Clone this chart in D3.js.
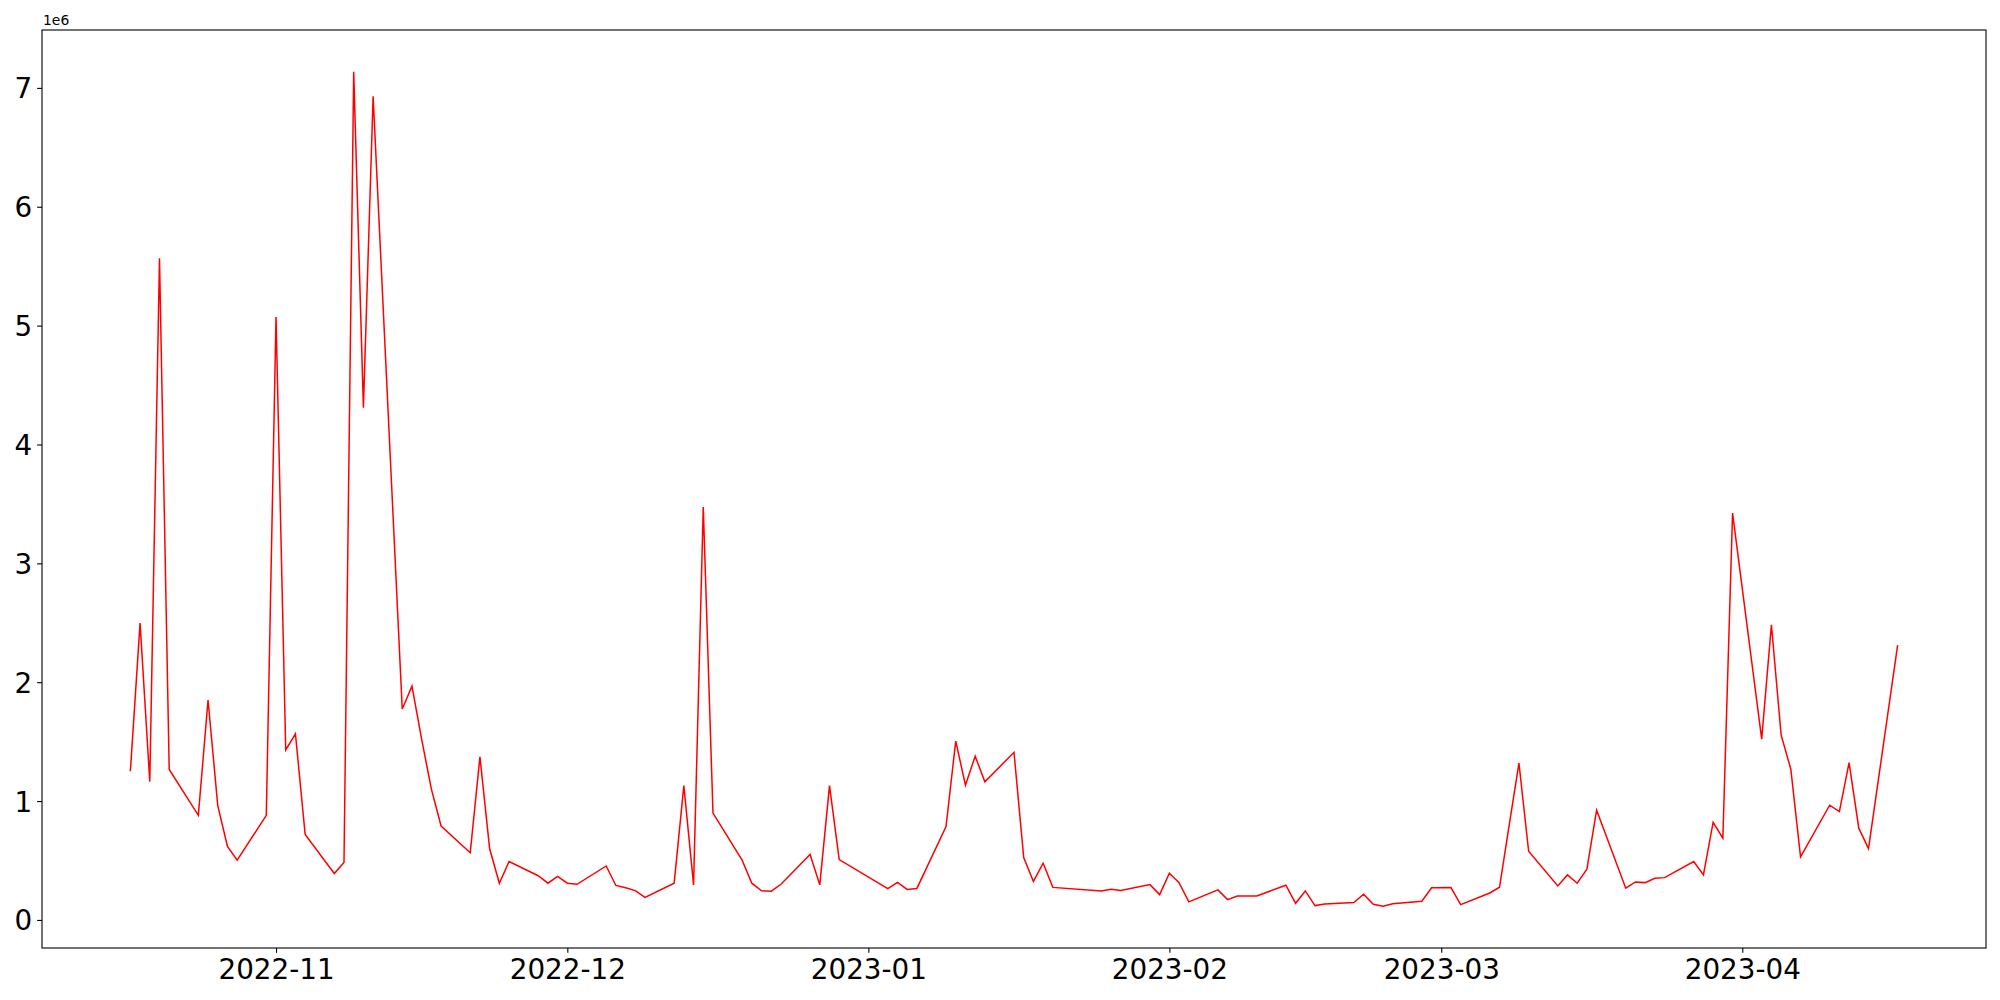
<!DOCTYPE html>
<html>
<head>
<meta charset="utf-8">
<script src="https://cdn.jsdelivr.net/npm/d3@7"></script>
<style>
  html, body { margin: 0; padding: 0; background: #ffffff; }
  svg { display: block; }
  text { font-family: "DejaVu Sans", sans-serif; fill: #000; }
</style>
</head>
<body>
<svg id="chart" width="2000" height="1000"></svg>
<script>
// ---- data ----
const dates = [
  "2022-10-17","2022-10-18","2022-10-19","2022-10-20","2022-10-21",
  "2022-10-24","2022-10-25","2022-10-26","2022-10-27","2022-10-28",
  "2022-10-31","2022-11-01","2022-11-02","2022-11-03","2022-11-04",
  "2022-11-07","2022-11-08","2022-11-09","2022-11-10","2022-11-11",
  "2022-11-14","2022-11-15","2022-11-16","2022-11-17","2022-11-18",
  "2022-11-21","2022-11-22","2022-11-23","2022-11-24","2022-11-25",
  "2022-11-28","2022-11-29","2022-11-30","2022-12-01","2022-12-02",
  "2022-12-05","2022-12-06","2022-12-07","2022-12-08","2022-12-09",
  "2022-12-12","2022-12-13","2022-12-14","2022-12-15","2022-12-16",
  "2022-12-19","2022-12-20","2022-12-21","2022-12-22","2022-12-23",
  "2022-12-26","2022-12-27","2022-12-28","2022-12-29",
  "2023-01-03","2023-01-04","2023-01-05","2023-01-06",
  "2023-01-09","2023-01-10","2023-01-11","2023-01-12","2023-01-13",
  "2023-01-16","2023-01-17","2023-01-18","2023-01-19","2023-01-20",
  "2023-01-25","2023-01-26","2023-01-27",
  "2023-01-30","2023-01-31","2023-02-01","2023-02-02","2023-02-03",
  "2023-02-06","2023-02-07","2023-02-08","2023-02-09","2023-02-10",
  "2023-02-13","2023-02-14","2023-02-15","2023-02-16","2023-02-17",
  "2023-02-20","2023-02-21","2023-02-22","2023-02-23","2023-02-24",
  "2023-02-27","2023-02-28","2023-03-02","2023-03-03",
  "2023-03-06","2023-03-07","2023-03-08","2023-03-09","2023-03-10",
  "2023-03-13","2023-03-14","2023-03-15","2023-03-16","2023-03-17",
  "2023-03-20","2023-03-21","2023-03-22","2023-03-23","2023-03-24",
  "2023-03-27","2023-03-28","2023-03-29","2023-03-30","2023-03-31",
  "2023-04-03","2023-04-04","2023-04-05","2023-04-06","2023-04-07",
  "2023-04-10","2023-04-11","2023-04-12","2023-04-13","2023-04-14",
  "2023-04-17"
];
const values = [
  1251000, 2497000, 1164000, 5566000, 1266000,
  880000, 1850000, 961000, 619000, 503000,
  880000, 5073000, 1430000, 1566000, 720000,
  391000, 483000, 7136000, 4310000, 6929000,
  1774000, 1967000, 1520000, 1100000, 790000,
  565000, 1372000, 599000, 309000, 492000,
  372000, 309000, 367000, 309000, 300000,
  454000, 290000, 270000, 247000, 189000,
  309000, 1130000, 295000, 3474000, 899000,
  503000, 309000, 245000, 242000, 300000,
  551000, 295000, 1130000, 508000,
  263000, 316000, 257000, 265000,
  785000, 1505000, 1133000, 1378000, 1162000,
  1410000, 524000, 324000, 477000, 274000,
  244000, 258000, 247000,
  297000, 213000, 393000, 314000, 152000,
  253000, 171000, 202000, 202000, 202000,
  292000, 140000, 244000, 121000, 135000,
  146000, 216000, 132000, 115000, 137000,
  158000, 270000, 272000, 129000,
  227000, 275000, 800000, 1319000, 578000,
  286000, 379000, 309000, 427000, 923000,
  267000, 320000, 314000, 351000, 356000,
  491000, 379000, 822000, 688000, 3423000,
  1521000, 2483000, 1557000, 1268000, 530000,
  965000, 912000, 1324000, 772000, 600000,
  2312000
];
const yTickValues = [0, 1, 2, 3, 4, 5, 6, 7];
const yOffsetLabel = "1e6";
const xTickDates = ["2022-11-01","2022-12-01","2023-01-01","2023-02-01","2023-03-01","2023-04-01"];

// ---- layout ----
const svg = d3.select("#chart");
const mLeft = 42, mRight = 1986, mTop = 30, mBottom = 948;
const fs = 27.8;
const tickLen = 4.86, tickPad = 4.86;

const parseDate = d3.utcParse("%Y-%m-%d");
const data = dates.map((d, i) => ({ date: parseDate(d), value: values[i] }));

// matplotlib-like 5% margins
const [xmin, xmax] = d3.extent(data, d => d.date);
const xspan = xmax - xmin;
const x = d3.scaleUtc()
  .domain([new Date(+xmin - 0.05 * xspan), new Date(+xmax + 0.05 * xspan)])
  .range([mLeft, mRight]);

const [ymin, ymax] = d3.extent(values);
const yspan = ymax - ymin;
const y = d3.scaleLinear()
  .domain([ymin - 0.05 * yspan, ymax + 0.05 * yspan])
  .range([mBottom, mTop]);

// line
const lineGen = d3.line().x(d => x(d.date)).y(d => y(d.value));
svg.append("path")
  .datum(data)
  .attr("d", lineGen)
  .attr("fill", "none")
  .attr("stroke", "#ff0000")
  .attr("stroke-width", 1.5)
  .attr("stroke-linejoin", "miter");

// x axis
const fmt = d3.utcFormat("%Y-%m");
const xAxis = d3.axisBottom(x)
  .tickValues(xTickDates.map(parseDate))
  .tickFormat(fmt)
  .tickSizeInner(tickLen)
  .tickSizeOuter(0)
  .tickPadding(tickPad);
const gx = svg.append("g").attr("transform", `translate(0,${mBottom})`).call(xAxis);
gx.select(".domain").remove();
gx.selectAll(".tick line").attr("stroke", "#000").attr("stroke-width", 1.1);
gx.selectAll(".tick text")
  .attr("font-size", fs)
  .attr("font-family", "DejaVu Sans")
  .attr("fill", "#000")
  .attr("dy", "0.76em");

// y axis
const yAxis = d3.axisLeft(y)
  .tickValues(yTickValues.map(v => v * 1e6))
  .tickFormat(v => String(Math.round(v / 1e6)))
  .tickSizeInner(tickLen)
  .tickSizeOuter(0)
  .tickPadding(tickPad);
const gy = svg.append("g").attr("transform", `translate(${mLeft},0)`).call(yAxis);
gy.select(".domain").remove();
gy.selectAll(".tick line").attr("stroke", "#000").attr("stroke-width", 1.1);
gy.selectAll(".tick text")
  .attr("font-size", fs)
  .attr("font-family", "DejaVu Sans")
  .attr("fill", "#000")
  .attr("dy", "0.36em");

// frame (spines)
svg.append("rect")
  .attr("x", mLeft).attr("y", mTop)
  .attr("width", mRight - mLeft).attr("height", mBottom - mTop)
  .attr("fill", "none")
  .attr("stroke", "#000")
  .attr("stroke-width", 1.1);

// offset text
svg.append("text")
  .attr("x", mLeft + 1)
  .attr("y", mTop - 5)
  .attr("font-size", 13.9)
  .text(yOffsetLabel);
</script>
</body>
</html>
